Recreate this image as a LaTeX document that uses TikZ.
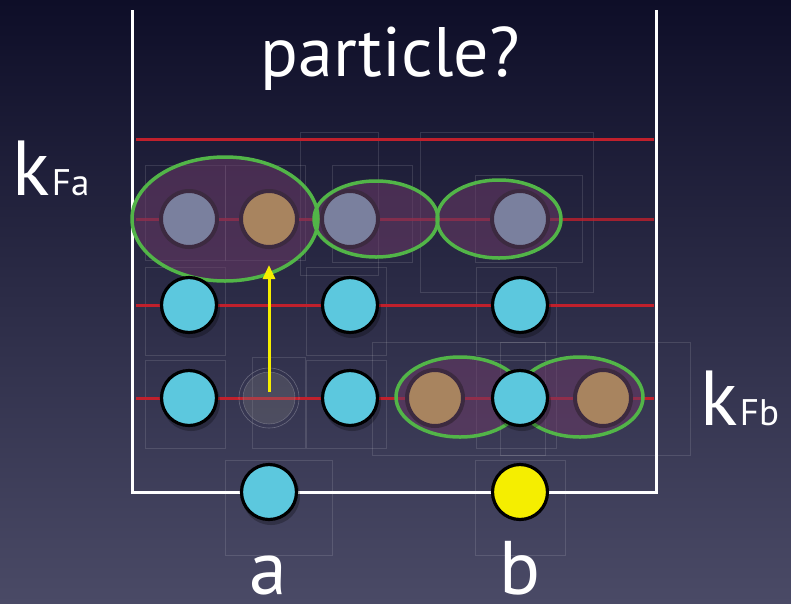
\documentclass[tikz,border=0pt]{standalone}
\usepackage{fontspec}
\setmainfont{PT Sans}
\usetikzlibrary{arrows.meta}
\definecolor{bgtop}{HTML}{0E0E28}
\definecolor{bgbot}{HTML}{4A4A66}
\definecolor{cyanc}{HTML}{5CC8DE}
\definecolor{grayb}{HTML}{7A809E}
\definecolor{brownc}{HTML}{A8845F}
\definecolor{halo}{HTML}{3C2A40}
\definecolor{pairfill}{HTML}{6A3A66}
\definecolor{greenc}{HTML}{52B548}
\definecolor{redc}{HTML}{C0202C}
\definecolor{yellowc}{HTML}{F5EE00}
\tikzset{
  faint/.style={draw=white, draw opacity=0.12, line width=0.7},
  redline/.style={draw=redc, line width=3},
  wall/.style={draw=white, line width=3},
  cyanball/.style={circle, draw=black, line width=3.2, fill=cyanc, minimum size=55, inner sep=0},
  topball/.style={circle, draw=halo, line width=4, minimum size=56, inner sep=0},
  pairfillst/.style={fill=pairfill, fill opacity=0.55},
  pairline/.style={draw=greenc, line width=3.5},
  shadowst/.style={circle, fill=black, opacity=0.25, minimum size=58, inner sep=0},
  bigtxt/.style={text=white, inner sep=0},
}
\begin{document}
\begin{tikzpicture}[x=1pt,y=-1pt]
\shade[top color=bgtop,bottom color=bgbot] (0,0) rectangle (791,603);
\useasboundingbox (0,0) rectangle (791,603);

% faint bounding boxes
\foreach \cx/\cy in {189/305,350/305,520/305,189/398,350/398,520/398}{
  \draw[faint] (\cx-44,\cy-38) rectangle (\cx+36,\cy+50);
}
\draw[faint] (145,165) rectangle (225,260);
\draw[faint] (225,165) rectangle (305,260);
\draw[faint] (300,132) rectangle (378,275);
\draw[faint] (332,165) rectangle (412,262);
\draw[faint] (420,132) rectangle (593,292);
\draw[faint] (475,175) rectangle (582,262);
\draw[faint] (372,342) rectangle (545,455);
\draw[faint] (500,342) rectangle (690,455);
\draw[faint] (252,357) rectangle (305,448);
\draw[faint] (225,460) rectangle (332,555);
\draw[faint] (475,460) rectangle (565,555);

% Fermi-level lines
\draw[redline] (136,139) -- (654,139);
\draw[redline, draw opacity=0.8] (136,219) -- (654,219);
\draw[redline] (136,305) -- (654,305);
\draw[redline] (136,398) -- (654,398);

% walls
\draw[wall] (132,10) -- (132,492) -- (656,492) -- (656,10);

% pair fills
\fill[pairfillst] (225,219) ellipse [x radius=93pt, y radius=62pt];
\fill[pairfillst] (376,219) ellipse [x radius=62pt, y radius=38pt];
\fill[pairfillst] (499,219) ellipse [x radius=62pt, y radius=39pt];
\fill[pairfillst] (460,397) ellipse [x radius=64pt, y radius=40pt];
\fill[pairfillst] (580,397) ellipse [x radius=63pt, y radius=40pt];

% top-row particles
\node[topball, fill=grayb] (t1) at (189,219) {};
\node[topball, fill=brownc] (t2) at (269,219) {};
\node[topball, fill=grayb] (t3) at (350,219) {};
\node[topball, fill=grayb] (t4) at (520,219) {};

% bottom-row brown particles
\node[topball, fill=brownc] (r1) at (435,398) {};
\node[topball, fill=brownc] (r2) at (603,398) {};

% pair outlines
\draw[pairline] (225,219) ellipse [x radius=93pt, y radius=62pt];
\draw[pairline] (376,219) ellipse [x radius=62pt, y radius=38pt];
\draw[pairline] (499,219) ellipse [x radius=62pt, y radius=39pt];
\draw[pairline] (460,397) ellipse [x radius=64pt, y radius=40pt];
\draw[pairline] (580,397) ellipse [x radius=63pt, y radius=40pt];

% hole
\node[circle, minimum size=60, inner sep=0, draw=white, draw opacity=0.25, line width=0.6] (holering) at (269,398) {};
\node[circle, minimum size=52, inner sep=0, fill=gray, fill opacity=0.3, draw=white, draw opacity=0.2, line width=0.6] (hole) at (269,398) {};

% shadows
\foreach \cx/\cy in {189/305,350/305,520/305,189/398,350/398,520/398,269/492}{
  \node[shadowst] at (\cx+2,\cy+4) {};
}

% cyan particles
\node[cyanball] (c1) at (189,305) {};
\node[cyanball] (c2) at (350,305) {};
\node[cyanball] (c3) at (520,305) {};
\node[cyanball] (c4) at (189,398) {};
\node[cyanball] (c5) at (350,398) {};
\node[cyanball] (c6) at (520,398) {};
\node[cyanball] (pa) at (269,492) {};
\node[cyanball, fill=yellowc] (pb) at (520,492) {};

% excitation arrow
\coordinate (arrtip) at (269,265);
\draw[yellowc, line width=3, -{Triangle[length=14pt,width=12pt]}] (hole.center) ++(0,-6) -- (arrtip);

% labels
\node[bigtxt, font=\fontsize{70}{70}\selectfont, anchor=base] (title) at (390,76) {particle?};
\node[bigtxt, font=\fontsize{78}{78}\selectfont, anchor=base west] (kfa) at (12,195) {k};
\node[bigtxt, font=\fontsize{37}{37}\selectfont, anchor=base west] (fa) at ([xshift=2pt]kfa.base east) {Fa};
\node[bigtxt, font=\fontsize{78}{78}\selectfont, anchor=base west] (kfb) at (700,425) {k};
\node[bigtxt, font=\fontsize{37}{37}\selectfont, anchor=base west] (fb) at ([xshift=2pt]kfb.base east) {Fb};
\node[bigtxt, font=\fontsize{76}{76}\selectfont, anchor=base] (la) at (268,594) {a};
\node[bigtxt, font=\fontsize{76}{76}\selectfont, anchor=base] (lb) at (520,594) {b};
\end{tikzpicture}
\end{document}
